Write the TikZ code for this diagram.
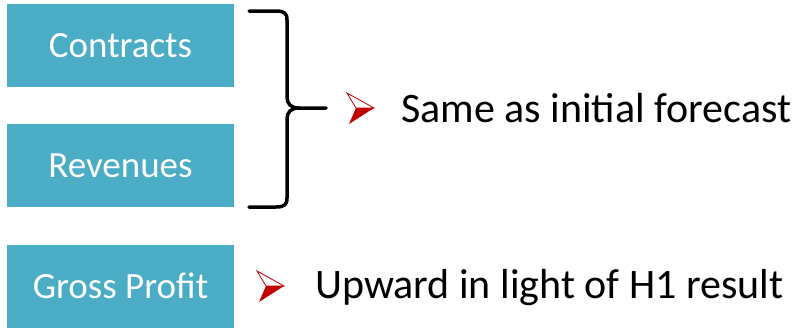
\documentclass[tikz,border=0pt]{standalone}
\usepackage{fontspec}
\setmainfont{Carlito}
\definecolor{boxaqua}{HTML}{4BACC6}
\definecolor{bulletred}{HTML}{C00000}
\begin{document}
\begin{tikzpicture}[x=1pt,y=-1pt,
  infobox/.style={rectangle, fill=boxaqua, draw=none, inner sep=0pt,
    minimum width=227pt, minimum height=83pt, text=white,
    font=\fontsize{37}{44}\selectfont, text height=24pt, text depth=0pt},
  bodytext/.style={anchor=base west, inner sep=0pt, text=black,
    font=\fontsize{42}{50}\selectfont},
  bracepath/.style={draw=black, line width=3.5pt, line join=round, line cap=round},
  redbullet/.pic={
    \filldraw[draw=bulletred, fill=white, line width=0.8pt, line join=miter]
      (-9,-15) -- (18,0) -- (0,0) -- cycle;
    \fill[bulletred] (0,0) -- (18,0) -- (-7,16) -- cycle;
  }]
\useasboundingbox (0,0) rectangle (799,327);
% boxes
\node[infobox] (contracts) at (120.5,45.5) {Contracts};
\node[infobox] (revenues) at (120.5,165.5) {Revenues};
\node[infobox] (gross) at (120.5,286) {Gross Profit};
% brace
\coordinate (bracetop) at (249,11);
\coordinate (bracebot) at (249,207);
\coordinate (bracetip) at (326,108);
\draw[bracepath] (bracetop) -- (276,11) .. controls (284,11) and (287,13) .. (287,20)
  -- (287,97) .. controls (287,104) and (291,108) .. (299,108) -- (bracetip);
\draw[bracepath] (bracebot) -- (276,207) .. controls (284,207) and (287,205) .. (287,198)
  -- (287,119) .. controls (287,112) and (291,108) .. (299,108);
% bullets and texts
\pic at (356,108) {redbullet};
\node[bodytext] (same) at (401,122.5) {Same as initial forecast};
\pic at (266,286) {redbullet};
\node[bodytext] (upward) at (315,298) {Upward in light of H1 result};
\end{tikzpicture}
\end{document}
